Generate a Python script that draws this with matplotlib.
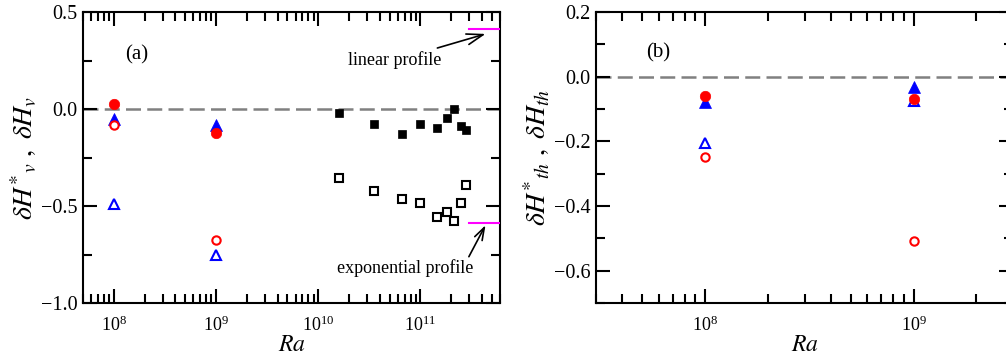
import numpy as np
import matplotlib
matplotlib.use("Agg")
import matplotlib.pyplot as plt
from matplotlib.ticker import LogLocator, MultipleLocator, FuncFormatter, NullFormatter

# =========================
# DATA
# =========================
ra_dns = [1e8, 1e9]

# panel (a): viscous boundary layer
a_red_filled = [0.025, -0.125]
a_red_open = [-0.085, -0.675]
a_blue_filled = [-0.05, -0.082]
a_blue_open = [-0.49, -0.75]

ra_exp = [1.6e10, 3.5e10, 6.6e10, 1.0e11, 1.45e11, 1.83e11, 2.12e11, 2.48e11, 2.8e11]
a_sq_filled = [-0.019, -0.079, -0.127, -0.076, -0.098, -0.048, 0.0, -0.086, -0.108]
a_sq_open = [-0.357, -0.423, -0.466, -0.486, -0.558, -0.529, -0.577, -0.486, -0.393]

profile_ra = [3e11, 6e11]
linear_profile = 0.411
exp_profile = -0.588

# panel (b): thermal boundary layer
b_red_filled = [-0.059, -0.069]
b_red_open = [-0.247, -0.509]
b_blue_filled = [-0.079, -0.031]
b_blue_open = [-0.206, -0.075]

# =========================
# STYLE
# =========================
plt.rcParams["font.family"] = ["Liberation Serif", "DejaVu Serif"]
plt.rcParams["mathtext.fontset"] = "stix"
plt.rcParams["axes.linewidth"] = 1.5

W, H = 1006, 356
fig = plt.figure(figsize=(W / 100, H / 100), dpi=100)

ax_a = fig.add_axes([83 / W, (H - 303) / H, 417 / W, 291 / H])
ax_b = fig.add_axes([596 / W, (H - 303) / H, 417 / W, 291 / H])


def fmt_y(v, pos):
    s = "%.1f" % v
    if s == "-0.0":
        s = "0.0"
    return s.replace("-", "\u2212")


def fmt_x(v, pos):
    e = int(round(np.log10(v)))
    return r"$\mathdefault{10^{%d}}$" % e


def style_axes(ax, ymajor, yminor):
    ax.set_xscale("log")
    ax.xaxis.set_major_locator(LogLocator(base=10, numticks=20))
    ax.xaxis.set_minor_locator(LogLocator(base=10, subs=np.arange(2, 10), numticks=20))
    ax.xaxis.set_major_formatter(FuncFormatter(fmt_x))
    ax.xaxis.set_minor_formatter(NullFormatter())
    ax.yaxis.set_major_locator(MultipleLocator(ymajor))
    ax.yaxis.set_minor_locator(MultipleLocator(yminor))
    ax.yaxis.set_major_formatter(FuncFormatter(fmt_y))
    ax.tick_params(which="both", direction="in", top=True, right=True, width=1.5)
    ax.tick_params(which="major", length=10)
    ax.tick_params(which="minor", length=6.5)
    ax.tick_params(axis="x", which="major", labelsize=13, pad=9)
    ax.tick_params(axis="y", which="major", labelsize=14.5, pad=4)
    ax.set_xlabel("$Ra$", fontsize=17, labelpad=0)
    ax.axhline(0, color="#808080", lw=1.8, dashes=(6, 2.5), zorder=1)


def draw_dns(ax, blue_filled, blue_open, red_filled, red_open):
    ax.plot(ra_dns, blue_open, ls="none", marker="^", ms=7, mfc="white",
            mec="blue", mew=1.5, zorder=3)
    ax.plot(ra_dns, blue_filled, ls="none", marker="^", ms=8, mfc="blue",
            mec="blue", mew=0.5, zorder=3)
    ax.plot(ra_dns, red_filled, ls="none", marker="o", ms=7.5, mfc="red",
            mec="red", mew=0.5, zorder=4)
    ax.plot(ra_dns, red_open, ls="none", marker="o", ms=6, mfc="white",
            mec="red", mew=1.5, zorder=4)


# =========================
# PANEL (a)
# =========================
style_axes(ax_a, 0.5, 0.25)
ax_a.set_xlim(5e7, 6e11)
ax_a.set_ylim(-1.0, 0.5)
ax_a.set_ylabel(r"$\delta H^{*}{}_{v}\ ,\ \delta H_{v}$", fontsize=20, labelpad=1)

draw_dns(ax_a, a_blue_filled, a_blue_open, a_red_filled, a_red_open)
ax_a.plot(ra_exp, a_sq_filled, ls="none", marker="s", ms=6, mfc="black",
          mec="black", mew=0.5, zorder=3)
ax_a.plot(ra_exp, a_sq_open, ls="none", marker="s", ms=5.5, mfc="white",
          mec="black", mew=1.5, zorder=3)

ax_a.plot(profile_ra, [linear_profile] * 2, color="#ff00ff", lw=1.5, zorder=3)
ax_a.plot(profile_ra, [exp_profile] * 2, color="#ff00ff", lw=1.5, zorder=3)

arrow = dict(arrowstyle="->,head_length=0.9,head_width=0.3", color="black", lw=1.2,
             shrinkA=2, shrinkB=0)
ax_a.annotate("linear profile", xy=(4.33e11, 0.387), xytext=(1.6e11, 0.25),
              ha="right", va="center", fontsize=13, arrowprops=arrow)
ax_a.annotate("exponential profile", xy=(4.33e11, -0.599), xytext=(7.1e10, -0.82),
              ha="center", va="center", fontsize=13)
ax_a.annotate("", xy=(4.33e11, -0.599), xytext=(2.89e11, -0.774),
              arrowprops=arrow)
ax_a.text(1.28e8, 0.28, "(a)", fontsize=15, ha="left", va="center")

# =========================
# PANEL (b)
# =========================
style_axes(ax_b, 0.2, 0.1)
ax_b.set_xlim(3e7, 3e9)
ax_b.set_ylim(-0.7, 0.2)
ax_b.set_ylabel(r"$\delta H^{*}{}_{th}\ ,\ \delta H_{th}$", fontsize=20, labelpad=1)

draw_dns(ax_b, b_blue_filled, b_blue_open, b_red_filled, b_red_open)
ax_b.text(5.2e7, 0.073, "(b)", fontsize=15, ha="left", va="center")

fig.savefig("out.png", dpi=100)
